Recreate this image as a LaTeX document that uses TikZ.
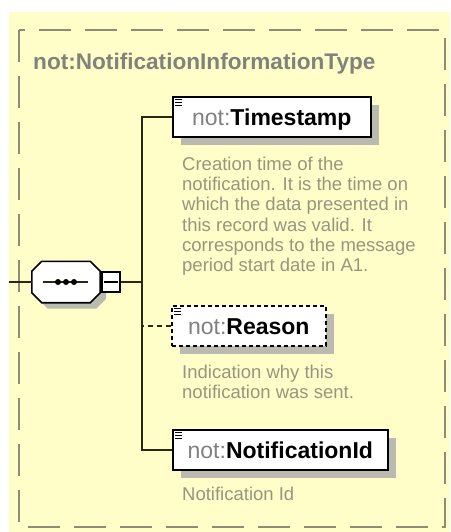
\documentclass[tikz,border=0pt]{standalone}
\usepackage{fontspec}
\setmainfont{Liberation Sans}
\usetikzlibrary{positioning,shadows}
\definecolor{paper}{RGB}{255,254,200}
\definecolor{framegray}{RGB}{140,140,118}
\definecolor{notegray}{RGB}{150,150,128}
\definecolor{titlegray}{RGB}{130,130,124}
\definecolor{prefixgray}{RGB}{128,128,128}
\definecolor{shadegray}{RGB}{186,186,176}
\definecolor{wirecol}{RGB}{40,40,24}
\tikzset{
  element/.style={draw=black, line width=1.6pt, fill=white, minimum height=40pt,
    inner sep=0pt, anchor=west, font=\fontsize{23}{26}\selectfont,
    text height=17pt, text depth=0pt,
    general shadow={shadow xshift=8pt, shadow yshift=-8pt, fill=shadegray}},
  note/.style={anchor=north west, inner sep=0pt, align=left, text=notegray,
    font=\fontsize{18.5}{20.3}\selectfont},
  wire/.style={draw=wirecol, line width=1.6pt},
  octo/.style={draw=black, line width=1.6pt, fill=white,
    general shadow={shadow xshift=6pt, shadow yshift=-6pt, fill=shadegray}},
}
\newcommand{\prefixed}[1]{\textcolor{prefixgray}{not:}\textbf{#1}}
\begin{document}
\begin{tikzpicture}[x=1pt,y=-1pt]
  \useasboundingbox (0,0) rectangle (450,532);
  \fill[white] (0,0) rectangle (450,532);
  \fill[paper] (9,12) rectangle (450,532);
  \draw[framegray, line width=1.5pt, dash pattern=on 32pt off 14pt] (19,30) rectangle (445,527);

  \node[anchor=base west, inner sep=0pt, text=titlegray, font=\bfseries\fontsize{22.6}{26}\selectfont]
    (title) at (33,70) {not:NotificationInformationType};

  % sequence compositor
  \coordinate (in) at (9,282);
  \coordinate (spine) at (142,282);
  \node[minimum width=68pt, minimum height=41pt, inner sep=0pt] (seq) at (66,282) {};
  \draw[octo] ([xshift=10pt]seq.north west) -- ([xshift=-10pt]seq.north east)
    -- ([yshift=-10pt]seq.north east) -- ([yshift=10pt]seq.south east)
    -- ([xshift=-10pt]seq.south east) -- ([xshift=10pt]seq.south west)
    -- ([yshift=10pt]seq.south west) -- ([yshift=-10pt]seq.north west) -- cycle;
  \draw[wire, line width=1.4pt] ([xshift=-23pt]seq.center) -- ([xshift=22pt]seq.center);
  \foreach \dx in {-8,0,8} {
    \fill[black] ([xshift=\dx pt]seq.center) circle (3pt);
  }
  \node[draw=black, line width=1.4pt, fill=white, minimum width=18pt, minimum height=20pt,
    inner sep=0pt] (fold) at (111,282) {};
  \draw[black, line width=1.4pt] ([xshift=3pt]fold.west) -- ([xshift=-3pt]fold.east);

  % child elements
  \node[element, minimum width=198pt] (ts) at (172,117) {\prefixed{Timestamp}};
  \node[element, minimum width=154pt, dash pattern=on 4pt off 3pt] (rs) at (171,326) {\prefixed{Reason}};
  \node[element, minimum width=215pt] (ni) at (172,450) {\prefixed{NotificationId}};
  \foreach \b in {ts,rs,ni} {
    \foreach \k in {0,1,2} {
      \draw[black, line width=1.1pt] ([xshift=3pt,yshift=-3pt-3*\k pt]\b.north west) -- ++(7,0);
    }
  }

  \draw[wire] (in) -- (seq.west);
  \draw[wire] (fold.east) -- (spine);
  \draw[wire] (ts.west) -| (spine) |- (ni.west);
  \draw[wire, dash pattern=on 5pt off 4pt] (rs.west) -- (rs.west -| spine);

  % annotations
  \node[note] (tsnote) at (182,156.5) {Creation time of the\\ notification. It is the time on\\
    which the data presented in\\ this record was valid. It\\ corresponds to the message\\
    period start date in A1.};
  \node[note] (rsnote) at (182,364.5) {Indication why this\\ notification was sent.};
  \node[note] (ninote) at (182,486.5) {Notification Id};
\end{tikzpicture}
\end{document}
